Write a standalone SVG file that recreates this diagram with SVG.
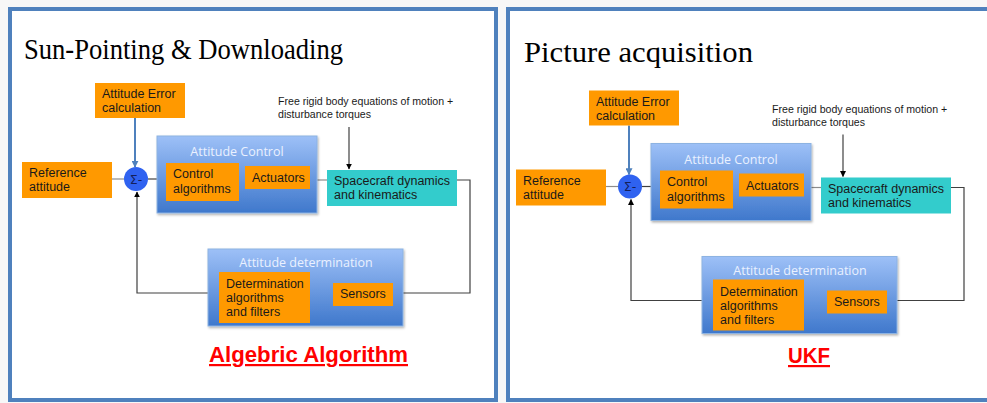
<svg xmlns="http://www.w3.org/2000/svg" width="987" height="403" viewBox="0 0 987 403">
<defs>
  <linearGradient id="blueGrad" x1="0" y1="0" x2="0" y2="1">
    <stop offset="0" stop-color="#9DC0F7"/>
    <stop offset="1" stop-color="#3F78CC"/>
  </linearGradient>
  <marker id="arrBlack" viewBox="0 0 10 10" refX="9" refY="5" markerWidth="6" markerHeight="6" orient="auto" markerUnits="userSpaceOnUse">
    <path d="M0,0 L10,5 L0,10 z" fill="#000"/>
  </marker>
  <marker id="arrBlue" viewBox="0 0 10 10" refX="9" refY="5" markerWidth="7" markerHeight="7" orient="auto" markerUnits="userSpaceOnUse">
    <path d="M0,0 L10,5 L0,10 z" fill="#4F81BD"/>
  </marker>
  <filter id="shadow" x="-5%" y="-5%" width="112%" height="115%">
    <feDropShadow dx="1" dy="1.5" stdDeviation="1" flood-color="#000" flood-opacity="0.3"/>
  </filter>
</defs>
<style>
  .panel { fill: #FFFFFF; stroke: #4F81BD; stroke-width: 4; }
  .title { font-family: "Liberation Serif", "DejaVu Serif", serif; font-size: 29px; fill: #000; }
  .orange { fill: #FF9900; }
  .teal { fill: #33CCCC; }
  .group { fill: url(#blueGrad); stroke: #8DB3E2; stroke-width: 1; filter: url(#shadow); }
  .txt { font-family: "Liberation Sans", Arial, sans-serif; font-size: 12.5px; fill: #1a1a1a; }
  .small { font-family: "Liberation Sans", Arial, sans-serif; font-size: 10.6px; fill: #1a1a1a; }
  .gtitle { font-family: "Open Sans", "Liberation Sans", sans-serif; font-size: 12.5px; fill: #EAF1FF; text-anchor: middle; }
  .sum { fill: #2F62F0; }
  .sumtxt { font-family: "DejaVu Sans", sans-serif; font-size: 12.5px; fill: #14205A; text-anchor: middle; }
  .red { font-family: "Liberation Sans", Arial, sans-serif; font-weight: bold; font-size: 22px; fill: #FF0000; text-decoration: underline; }
  .line { fill: none; stroke: #404040; stroke-width: 1.2; }
  .grayline { fill: none; stroke: #8C8C8C; stroke-width: 1.2; }
  .blueline { fill: none; stroke: #4F81BD; stroke-width: 2; }
</style>
<rect width="987" height="403" fill="#F7F7F7"/>

<!-- LEFT PANEL -->
<g id="left-panel">
  <rect class="panel" x="10" y="9" width="486" height="391"/>
  <text class="title" x="24" y="59" textLength="319" lengthAdjust="spacingAndGlyphs">Sun-Pointing &amp; Downloading</text>
  <g id="l-connectors">
    <line class="grayline" x1="112" y1="179" x2="124" y2="179"/>
    <line class="line" x1="148" y1="179" x2="166" y2="179"/>
    <line class="grayline" x1="239" y1="179" x2="245" y2="179"/>
    <line class="grayline" x1="310" y1="180" x2="327" y2="180"/>
    <polyline class="line" points="457,180 470,180 470,293 393,293"/>
    <line class="line" x1="310" y1="293" x2="333" y2="293"/>
    <polyline class="line" points="219,293 137,293 137,192" marker-end="url(#arrBlack)"/>
    <line class="line" x1="349" y1="127" x2="349" y2="169" marker-end="url(#arrBlack)"/>
    <line class="blueline" x1="135" y1="118" x2="135" y2="167" marker-end="url(#arrBlue)"/>
  </g>
  <g id="l-attitude-error">
    <rect class="orange" x="95" y="83" width="90" height="35"/>
    <text class="txt" x="102" y="98">Attitude Error</text>
    <text class="txt" x="102" y="112">calculation</text>
  </g>
  <g id="l-disturbance">
    <text class="small" x="278" y="105">Free rigid body equations of motion +</text>
    <text class="small" x="278" y="118">disturbance torques</text>
  </g>
  <g id="l-reference">
    <rect class="orange" x="22" y="162" width="90" height="36"/>
    <text class="txt" x="29" y="177">Reference</text>
    <text class="txt" x="29" y="191">attitude</text>
  </g>
  <g id="l-sum">
    <circle class="sum" cx="136" cy="179" r="12"/>
    <text class="sumtxt" x="136" y="183.5">Σ-</text>
  </g>
  <g id="l-attitude-control">
    <rect class="group" x="157" y="136" width="160" height="77"/>
    <text class="gtitle" x="237" y="156">Attitude Control</text>
  </g>
  <g id="l-control-algorithms">
    <rect class="orange" x="166" y="163" width="73" height="38"/>
    <text class="txt" x="173" y="178">Control</text>
    <text class="txt" x="173" y="193">algorithms</text>
  </g>
  <g id="l-actuators">
    <rect class="orange" x="245" y="166" width="65" height="23"/>
    <text class="txt" x="252" y="182">Actuators</text>
  </g>
  <g id="l-spacecraft">
    <rect class="teal" x="327" y="170" width="130" height="36"/>
    <text class="txt" x="334" y="185">Spacecraft dynamics</text>
    <text class="txt" x="334" y="199">and kinematics</text>
  </g>
  <g id="l-attitude-determination">
    <rect class="group" x="208" y="249" width="195" height="77"/>
    <text class="gtitle" x="306" y="267">Attitude determination</text>
  </g>
  <g id="l-determination-algorithms">
    <rect class="orange" x="219" y="272" width="91" height="51"/>
    <text class="txt" x="226" y="288">Determination</text>
    <text class="txt" x="226" y="302">algorithms</text>
    <text class="txt" x="226" y="316">and filters</text>
  </g>
  <g id="l-sensors">
    <rect class="orange" x="333" y="283" width="60" height="23"/>
    <text class="txt" x="340" y="298">Sensors</text>
  </g>
  <text class="red" x="209" y="362" textLength="199" lengthAdjust="spacingAndGlyphs">Algebric Algorithm</text>
</g>

<!-- RIGHT PANEL -->
<g id="right-panel">
  <rect class="panel" x="508" y="9" width="490" height="391"/>
  <text class="title" x="524" y="62" textLength="229" lengthAdjust="spacingAndGlyphs">Picture acquisition</text>
  <g transform="translate(494,7.5)">
    <g id="r-connectors">
      <line class="grayline" x1="112" y1="179" x2="124" y2="179"/>
      <line class="line" x1="148" y1="179" x2="166" y2="179"/>
      <line class="grayline" x1="239" y1="179" x2="245" y2="179"/>
      <line class="grayline" x1="310" y1="180" x2="327" y2="180"/>
      <polyline class="line" points="457,180 470,180 470,293 393,293"/>
      <line class="line" x1="310" y1="293" x2="333" y2="293"/>
      <polyline class="line" points="219,293 137,293 137,192" marker-end="url(#arrBlack)"/>
      <line class="line" x1="349" y1="127" x2="349" y2="169" marker-end="url(#arrBlack)"/>
      <line class="blueline" x1="135" y1="118" x2="135" y2="167" marker-end="url(#arrBlue)"/>
    </g>
    <g id="r-attitude-error">
      <rect class="orange" x="95" y="83" width="90" height="35"/>
      <text class="txt" x="102" y="98">Attitude Error</text>
      <text class="txt" x="102" y="112">calculation</text>
    </g>
    <g id="r-disturbance">
      <text class="small" x="278" y="105">Free rigid body equations of motion +</text>
      <text class="small" x="278" y="118">disturbance torques</text>
    </g>
    <g id="r-reference">
      <rect class="orange" x="22" y="162" width="90" height="36"/>
      <text class="txt" x="29" y="177">Reference</text>
      <text class="txt" x="29" y="191">attitude</text>
    </g>
    <g id="r-sum">
      <circle class="sum" cx="136" cy="179" r="12"/>
      <text class="sumtxt" x="136" y="183.5">Σ-</text>
    </g>
    <g id="r-attitude-control">
      <rect class="group" x="157" y="136" width="160" height="77"/>
      <text class="gtitle" x="237" y="156">Attitude Control</text>
    </g>
    <g id="r-control-algorithms">
      <rect class="orange" x="166" y="163" width="73" height="38"/>
      <text class="txt" x="173" y="178">Control</text>
      <text class="txt" x="173" y="193">algorithms</text>
    </g>
    <g id="r-actuators">
      <rect class="orange" x="245" y="166" width="65" height="23"/>
      <text class="txt" x="252" y="182">Actuators</text>
    </g>
    <g id="r-spacecraft">
      <rect class="teal" x="327" y="170" width="130" height="36"/>
      <text class="txt" x="334" y="185">Spacecraft dynamics</text>
      <text class="txt" x="334" y="199">and kinematics</text>
    </g>
    <g id="r-attitude-determination">
      <rect class="group" x="208" y="249" width="195" height="77"/>
      <text class="gtitle" x="306" y="267">Attitude determination</text>
    </g>
    <g id="r-determination-algorithms">
      <rect class="orange" x="219" y="272" width="91" height="51"/>
      <text class="txt" x="226" y="288">Determination</text>
      <text class="txt" x="226" y="302">algorithms</text>
      <text class="txt" x="226" y="316">and filters</text>
    </g>
    <g id="r-sensors">
      <rect class="orange" x="333" y="283" width="60" height="23"/>
      <text class="txt" x="340" y="298">Sensors</text>
    </g>
  </g>
  <text class="red" x="788" y="363" textLength="42" lengthAdjust="spacingAndGlyphs">UKF</text>
</g>
</svg>
